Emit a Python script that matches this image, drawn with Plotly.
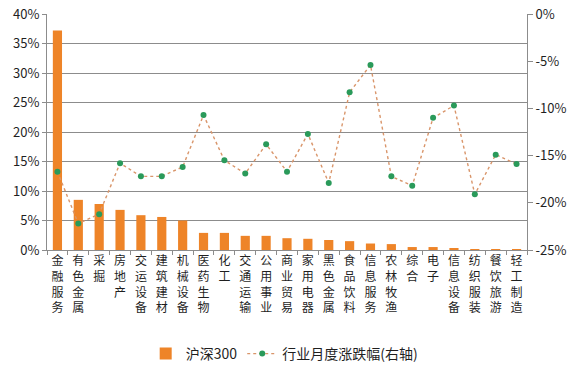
import plotly.graph_objects as go

categories = ["金融服务", "有色金属", "采掘", "房地产", "交运设备", "建筑建材", "机械设备",
              "医药生物", "化工", "交通运输", "公用事业", "商业贸易", "家用电器", "黑色金属",
              "食品饮料", "信息服务", "农林牧渔", "综合", "电子", "信息设备", "纺织服装",
              "餐饮旅游", "轻工制造"]
hs300_weight = [37.2, 8.5, 7.8, 6.8, 5.9, 5.6, 5.0, 2.9, 2.9, 2.4, 2.4, 2.0, 1.9, 1.7,
                1.5, 1.1, 1.0, 0.5, 0.5, 0.3, 0.15, 0.03, 0.03]
monthly_change = [-16.7, -22.2, -21.2, -15.8, -17.2, -17.2, -16.2, -10.7, -15.5, -16.9,
                  -13.8, -16.7, -12.7, -17.9, -8.3, -5.4, -17.2, -18.2, -11.0, -9.7,
                  -19.1, -14.9, -15.9]
left_ticks = [0, 5, 10, 15, 20, 25, 30, 35, 40]
right_ticks = [0, -5, -10, -15, -20, -25]

labels = ["<br>".join(list(c)) for c in categories]
FONT = "Noto Sans CJK SC"
TXT = "#1f1f1f"
GRID = "#8c8c8c"

fig = go.Figure()
fig.add_trace(go.Bar(
    x=labels, y=hs300_weight, name="沪深300",
    marker=dict(color="#EE8428", line=dict(width=0)),
    width=0.44, yaxis="y",
))
fig.add_trace(go.Scatter(
    x=labels, y=monthly_change, name="行业月度涨跌幅(右轴)", mode="lines+markers",
    line=dict(color="#D9956A", width=1.4, dash="dot"),
    marker=dict(color="#2A9A5A", size=6),
    yaxis="y2",
))

fig.update_layout(
    width=581, height=375,
    margin=dict(l=47, r=54, t=14, b=125, autoexpand=False),
    paper_bgcolor="white", plot_bgcolor="white",
    font=dict(family=FONT, color=TXT, size=13),
    showlegend=True,
    legend=dict(orientation="h", x=0.49, xanchor="center", xref="container",
                y=0.056, yanchor="middle", yref="container",
                font=dict(size=14, family=FONT, color=TXT),
                traceorder="normal"),
    xaxis=dict(
        type="category", range=[-0.5, len(categories) - 0.5],
        tickson="boundaries", ticks="outside", ticklen=4,
        tickcolor=GRID, showline=True, linecolor=GRID, linewidth=1,
        tickfont=dict(size=12, family=FONT, color=TXT), tickangle=0,
        showgrid=False, automargin=False,
    ),
    yaxis=dict(
        range=[0, 40], tickvals=left_ticks, ticktext=[f"{v}%" for v in left_ticks],
        showgrid=True, gridcolor=GRID, gridwidth=1,
        showline=True, linecolor=GRID, ticks="outside", ticklen=4, tickcolor=GRID,
        tickfont=dict(size=13, family=FONT, color=TXT), zeroline=False, automargin=False,
        ticklabeloverflow="allow",
    ),
    yaxis2=dict(
        range=[-25, 0], tickvals=right_ticks, ticktext=[f"{v}%" for v in right_ticks],
        overlaying="y", side="right", showgrid=False,
        showline=True, linecolor=GRID, ticks="outside", ticklen=5, tickcolor=GRID,
        tickfont=dict(size=13, family=FONT, color=TXT), zeroline=False, automargin=False,
        ticklabeloverflow="allow",
    ),
)

fig.write_html("out.html", config={"displayModeBar": False},
               post_script="document.body.style.margin='0';")
